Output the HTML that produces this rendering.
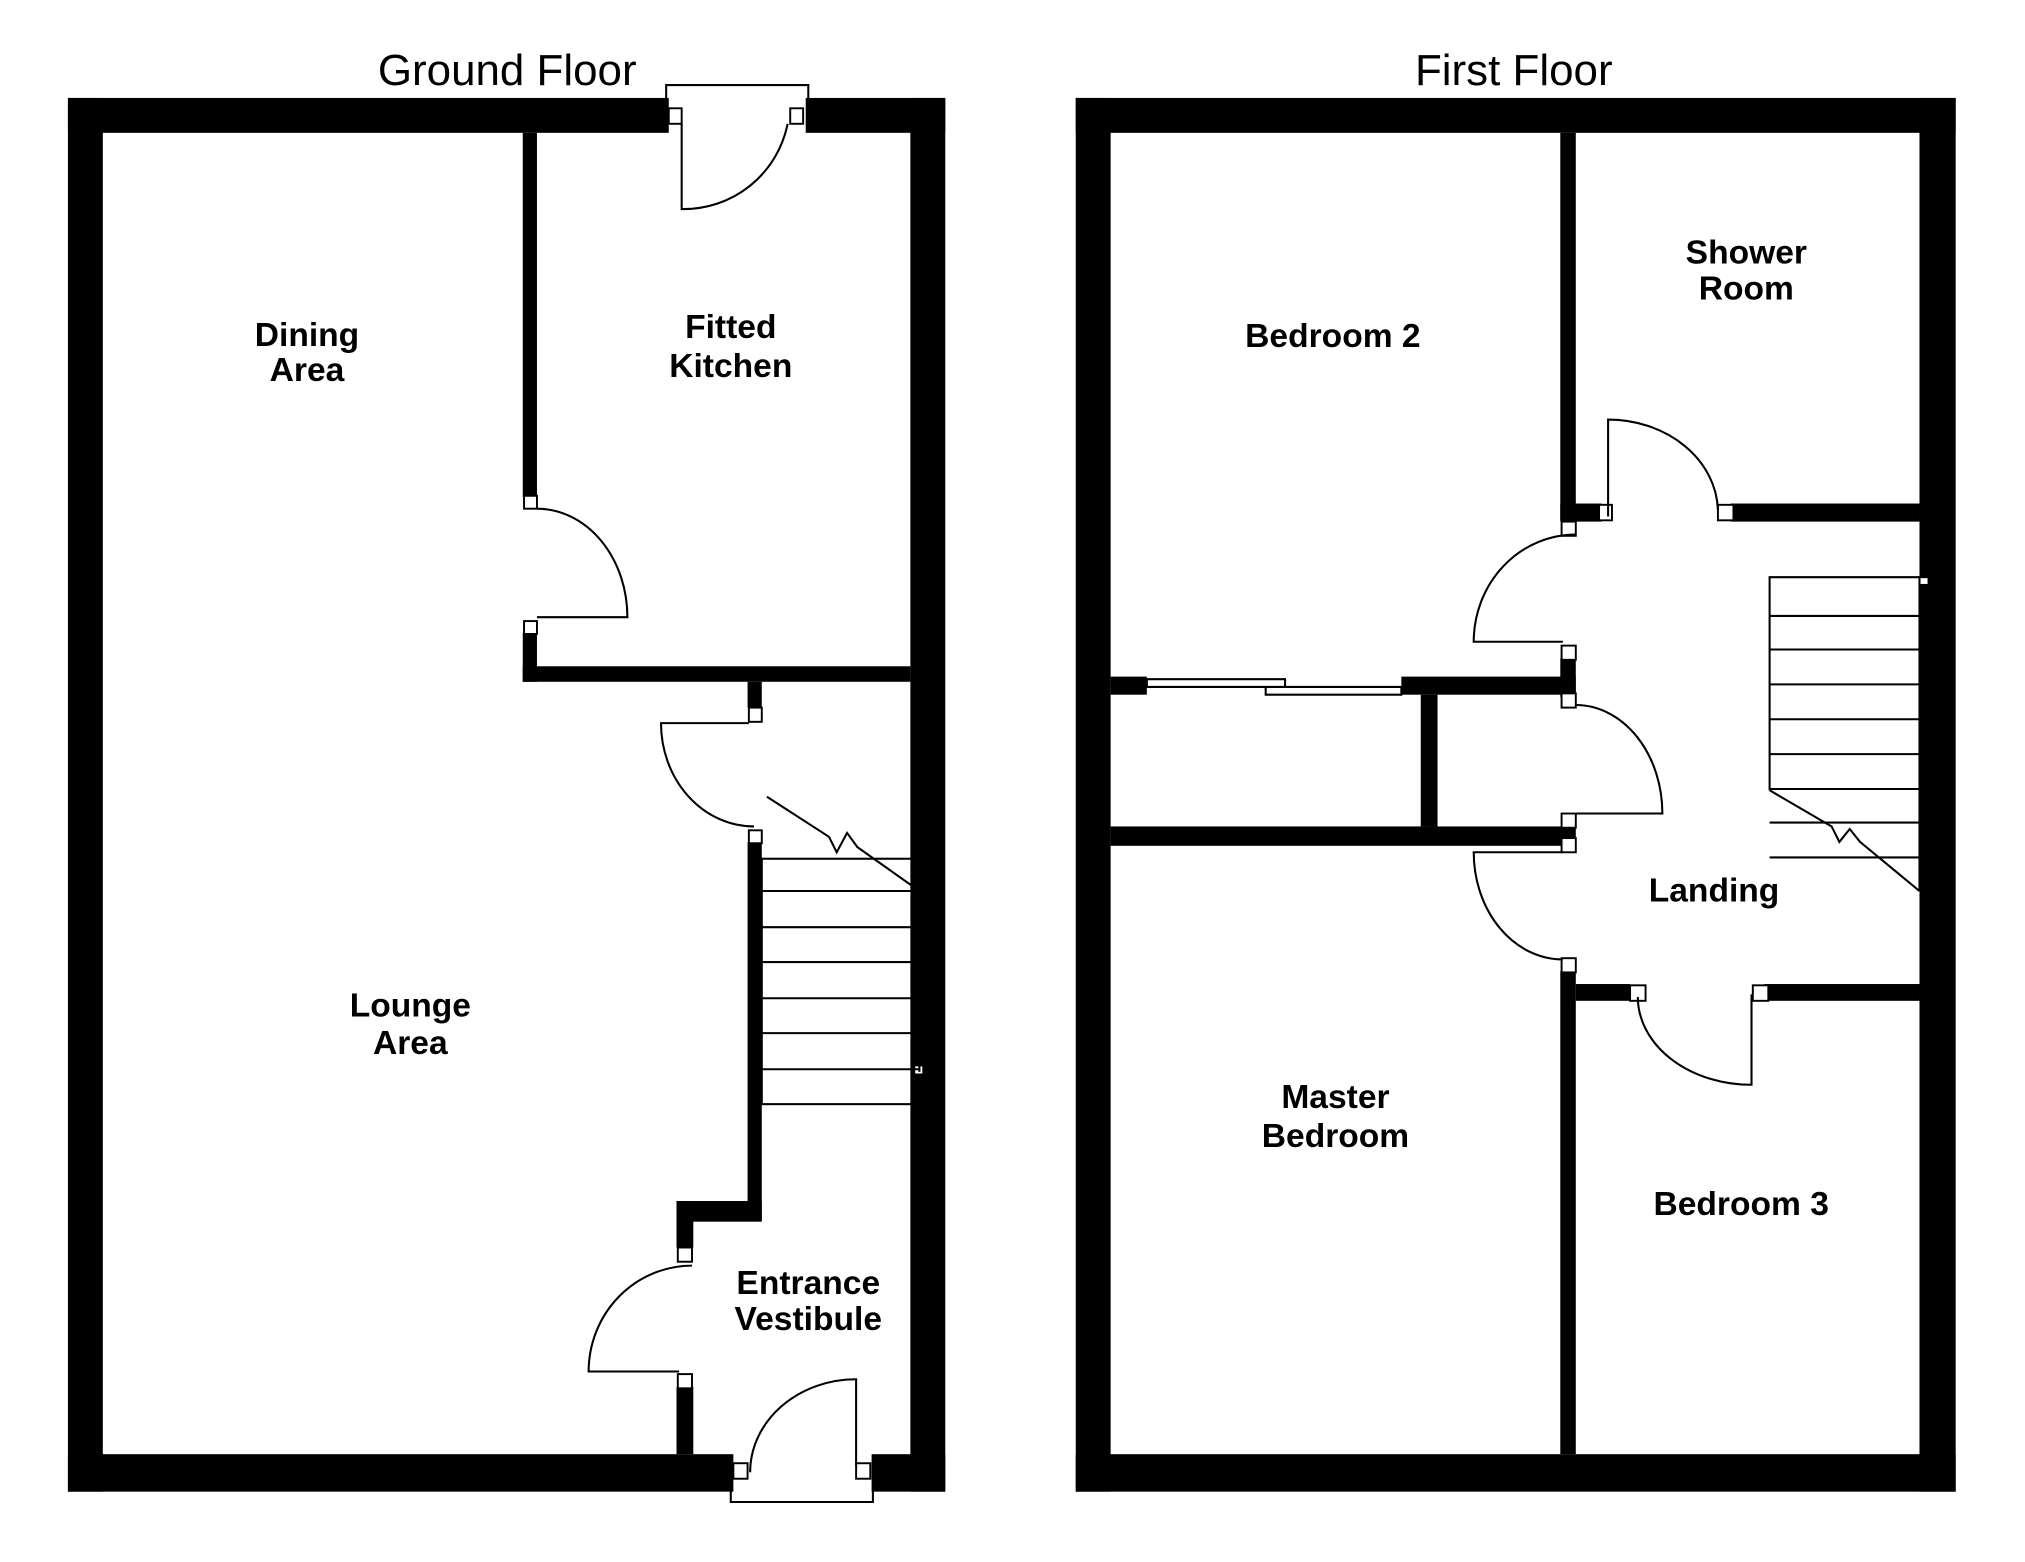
<!DOCTYPE html>
<html><head><meta charset="utf-8"><style>
html,body{margin:0;padding:0;background:#fff;}
svg{display:block;}
text{font-family:"Liberation Sans",sans-serif;fill:#000;}
.l{font-weight:bold;font-size:26px;text-anchor:middle;}
.t{font-size:34px;text-anchor:middle;}
</style></head><body>
<svg width="2025" height="1562" viewBox="0 0 1550 1196" preserveAspectRatio="none" xmlns="http://www.w3.org/2000/svg">
<g transform="translate(52,75) scale(0.989) translate(-53,-76)">
<g fill="#000">
<rect x="53" y="76" width="465" height="27"/>
<rect x="624" y="76" width="108" height="27"/>
<rect x="53" y="76" width="27" height="1079"/>
<rect x="705" y="76" width="27" height="1079"/>
<rect x="53" y="1126" width="515" height="29"/>
<rect x="675" y="1126" width="57" height="29"/>
<rect x="405" y="103" width="11" height="282"/>
<rect x="405" y="490" width="11" height="38"/>
<rect x="405" y="516" width="300" height="12"/>
<rect x="579" y="528" width="11" height="20"/>
<rect x="579" y="652" width="11" height="293"/>
<rect x="524" y="930" width="66" height="16"/>
<rect x="524" y="930" width="13" height="36"/>
<rect x="524" y="1074" width="13" height="52"/>
<rect x="833" y="76" width="681" height="27"/>
<rect x="833" y="76" width="27" height="1079"/>
<rect x="1486" y="76" width="28" height="1079"/>
<rect x="833" y="1126" width="681" height="29"/>
<rect x="1208" y="103" width="12" height="300"/>
<rect x="1208" y="390" width="32" height="14"/>
<rect x="1340" y="390" width="146" height="14"/>
<rect x="1208" y="510" width="12" height="30"/>
<rect x="860" y="524" width="28" height="14"/>
<rect x="1085" y="524" width="135" height="14"/>
<rect x="1100" y="538" width="13" height="102"/>
<rect x="860" y="640" width="360" height="15"/>
<rect x="1208" y="752" width="12" height="374"/>
<rect x="1220" y="762" width="42" height="13"/>
<rect x="1366" y="762" width="120" height="13"/>
</g>
<g fill="#fff" stroke="#000" stroke-width="1.5">
<rect x="518" y="84" width="10" height="12"/><rect x="612" y="84" width="10" height="12"/>
<rect x="406" y="384" width="10" height="10"/><rect x="406" y="481" width="10" height="10"/>
<rect x="580" y="548" width="10" height="11"/><rect x="580" y="643" width="10" height="10"/>
<rect x="525" y="966" width="11" height="11"/><rect x="525" y="1064" width="11" height="11"/>
<rect x="568" y="1133" width="11" height="12"/><rect x="663" y="1133" width="11" height="12"/>
<rect x="1238" y="391" width="10" height="12"/><rect x="1330" y="391" width="12" height="12"/>
<rect x="1209" y="404" width="11" height="11"/><rect x="1209" y="500" width="11" height="11"/>
<rect x="1209" y="537" width="11" height="11"/><rect x="1209" y="630" width="11" height="11"/>
<rect x="1209" y="649" width="11" height="11"/><rect x="1209" y="742" width="11" height="11"/>
<rect x="1262" y="763" width="12" height="12"/><rect x="1357" y="763" width="12" height="12"/>
<rect x="1486" y="447" width="7" height="6"/><rect x="708" y="825" width="7" height="7"/>
</g>
<g fill="none" stroke="#000" stroke-width="1.6">
<path d="M516 100 V66 H626 V100"/>
<path d="M528 96 V162 A82 82 0 0 0 610 96"/>
<path d="M416 394 A70 84 0 0 1 486 478 H416"/>
<path d="M580 560 H512 A72 80 0 0 0 584 640"/>
<path d="M536 980 A80 82 0 0 0 456 1062 H526"/>
<path d="M566 1128 V1163 H676 V1128"/>
<path d="M581 1140 A82 72 0 0 1 663 1068 V1135"/>
<rect x="590" y="665" width="128" height="190"/>
<path d="M590 690 H712 M590 718 H712 M590 745 H712 M590 773 H712 M590 800 H712 M590 828 H712"/>
<path d="M712 690 V830"/>
<path d="M594 617 L642 648 L648 660 L656 645 L664 656 L712 690"/>
<path d="M1245 400 V325 A85 72 0 0 1 1330 395"/>
<path d="M1220 414 A79 83 0 0 0 1141 497 H1210"/>
<path d="M1220 546 A67 84 0 0 1 1287 630 H1220"/>
<path d="M1210 660 H1141 A69 83 0 0 0 1210 743"/>
<path d="M1268 772 A88 68 0 0 0 1356 840 V770"/>
<path d="M888 526 H995 V532 H888 Z M980 532 H1085 V538 H980 Z"/>
<path d="M1370 612 V447 H1486"/>
<path d="M1370 477 H1486 M1370 503 H1486 M1370 530 H1486 M1370 557 H1486 M1370 584 H1486 M1370 611 H1486 M1370 637 H1486 M1370 664 H1486"/>
<path d="M1486 447 V690 M1492 453 V690"/>
<path d="M1370 612 L1418 640 L1424 652 L1432 642 L1440 652 L1486 690"/>
</g>
<text class="t" x="393" y="66">Ground Floor</text>
<text class="t" x="1172" y="66">First Floor</text>
<text class="l" x="238" y="268">Dining</text>
<text class="l" x="238" y="295">Area</text>
<text class="l" x="566" y="262">Fitted</text>
<text class="l" x="566" y="292">Kitchen</text>
<text class="l" x="318" y="787">Lounge</text>
<text class="l" x="318" y="816">Area</text>
<text class="l" x="626" y="1002">Entrance</text>
<text class="l" x="626" y="1030">Vestibule</text>
<text class="l" x="1032" y="269">Bedroom 2</text>
<text class="l" x="1352" y="204">Shower</text>
<text class="l" x="1352" y="232">Room</text>
<text class="l" x="1327" y="698">Landing</text>
<text class="l" x="1034" y="858">Master</text>
<text class="l" x="1034" y="888">Bedroom</text>
<text class="l" x="1348" y="941">Bedroom 3</text>
</g>
</svg>
</body></html>
